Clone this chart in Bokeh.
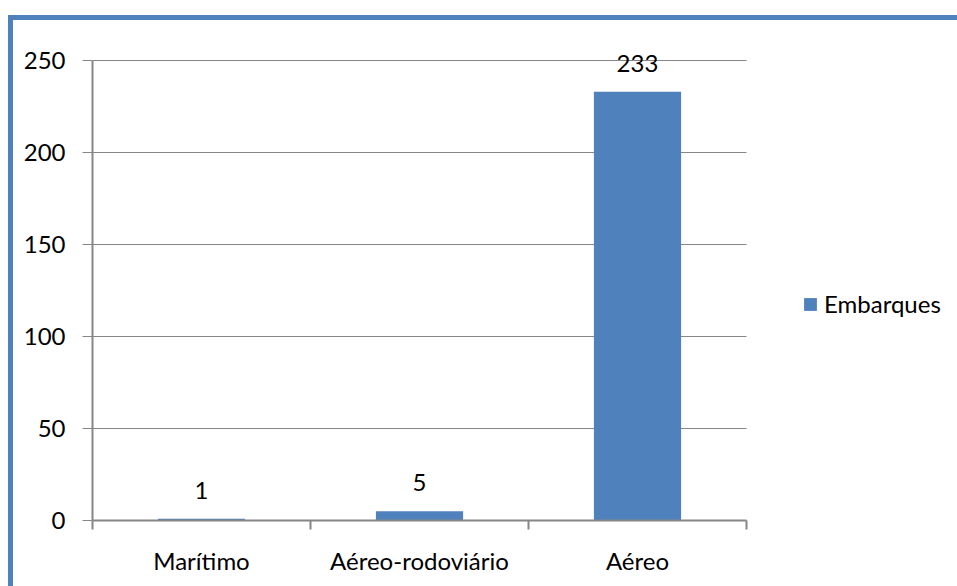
from bokeh.plotting import figure
from bokeh.models import (ColumnDataSource, Range1d, LinearAxis, FixedTicker,
                          LabelSet, Legend, LegendItem)
from bokeh.core.properties import value
from bokeh.embed import file_html
from bokeh.resources import INLINE

# Data
categories = ["Marítimo", "Aéreo-rodoviário", "Aéreo"]
embarques = [1, 5, 233]
series_name = "Embarques"
y_ticks = [0, 50, 100, 150, 200, 250]

BLUE = "#4F81BD"
GRAY = "#868686"
FONT = "Lato"
FONT_SIZE = "24px"

# Canvas geometry (pixels)
CANVAS_W, CANVAS_H = 944, 566
LEFT, BOTTOM = 79, 66
CAT_PX = 218          # width of one category slot
VALUE_PX = 460        # height of the 0..250 value span

frame_w = CANVAS_W - LEFT
frame_h = CANVAS_H - BOTTOM
n = len(categories)
x_pos = [i + 0.5 for i in range(n)]            # category centres
x_bounds = list(range(n + 1))                   # category boundaries
y_top = y_ticks[-1]

source = ColumnDataSource(dict(x=x_pos, cat=categories, val=embarques,
                               txt=[str(v) for v in embarques]))

# The frame reaches the right and top edges so the legend and the value
# labels are not clipped; axes are bounded to the category / value span.
p = figure(x_range=Range1d(0, n * frame_w / (n * CAT_PX)),
           y_range=Range1d(0, y_top * frame_h / VALUE_PX),
           width=CANVAS_W, height=CANVAS_H,
           output_backend="svg", toolbar_location=None,
           x_axis_location=None, y_axis_location=None,
           min_border_left=LEFT, min_border_right=0,
           min_border_top=0, min_border_bottom=BOTTOM)
p.outline_line_color = None
p.background_fill_color = "white"
p.border_fill_color = "white"
p.margin = (20, 0, 0, 13)
# Blue chart-area border along the top and left edges (drawn outside the box)
p.styles = {"box-shadow": (f"-5px -5px 0 0 {BLUE}, 0 -5px 0 0 {BLUE}, "
                           f"12px -5px 0 0 {BLUE}, -5px 0 0 0 {BLUE}, -5px 12px 0 0 {BLUE}")}
p.xgrid.visible = False
p.ygrid.visible = False

# Horizontal gridlines across the category span
p.segment(x0=x_bounds[0], x1=x_bounds[-1], y0=y_ticks, y1=y_ticks,
          line_color=GRAY, line_width=1)

# Value axis
yaxis = LinearAxis(ticker=FixedTicker(ticks=y_ticks), bounds=(y_ticks[0], y_top),
                   axis_line_color=GRAY, axis_line_width=2,
                   major_tick_line_color=GRAY, major_tick_out=10, major_tick_in=0,
                   minor_tick_line_color=None,
                   major_label_standoff=17,
                   major_label_text_font=FONT, major_label_text_font_size=FONT_SIZE,
                   major_label_text_color="black")
p.add_layout(yaxis, "left")

# Category axis: labels at category centres, tick marks at category boundaries
xaxis = LinearAxis(ticker=FixedTicker(ticks=x_pos, minor_ticks=x_bounds),
                   bounds=(x_bounds[0], x_bounds[-1]),
                   major_label_overrides=dict(zip(x_pos, categories)),
                   axis_line_color=GRAY, axis_line_width=2,
                   major_tick_line_color=None, major_tick_out=0, major_tick_in=0,
                   minor_tick_line_color=GRAY, minor_tick_line_width=2,
                   minor_tick_out=9, minor_tick_in=0,
                   major_label_standoff=16,
                   major_label_text_font=FONT, major_label_text_font_size=FONT_SIZE,
                   major_label_text_color="black")
p.add_layout(xaxis, "below")

bars = p.vbar(x="x", top="val", width=0.4, bottom=0, source=source,
              fill_color=BLUE, line_color=None)

p.add_layout(LabelSet(x="x", y="val", text="txt", source=source,
                      y_offset=20, text_align="center", text_baseline="alphabetic",
                      text_font=value(FONT), text_font_size=value(FONT_SIZE),
                      text_color="black"))

legend = Legend(items=[LegendItem(label=series_name, renderers=[bars])],
                location=(710, 202), orientation="vertical",
                glyph_width=16, glyph_height=16, label_standoff=6,
                label_text_font=FONT, label_text_font_size=FONT_SIZE,
                label_text_color="black", label_height=16,
                padding=0, margin=0, spacing=0,
                border_line_color=None, background_fill_alpha=0)
p.add_layout(legend)

open("out.html", "w").write(file_html(p, INLINE))
